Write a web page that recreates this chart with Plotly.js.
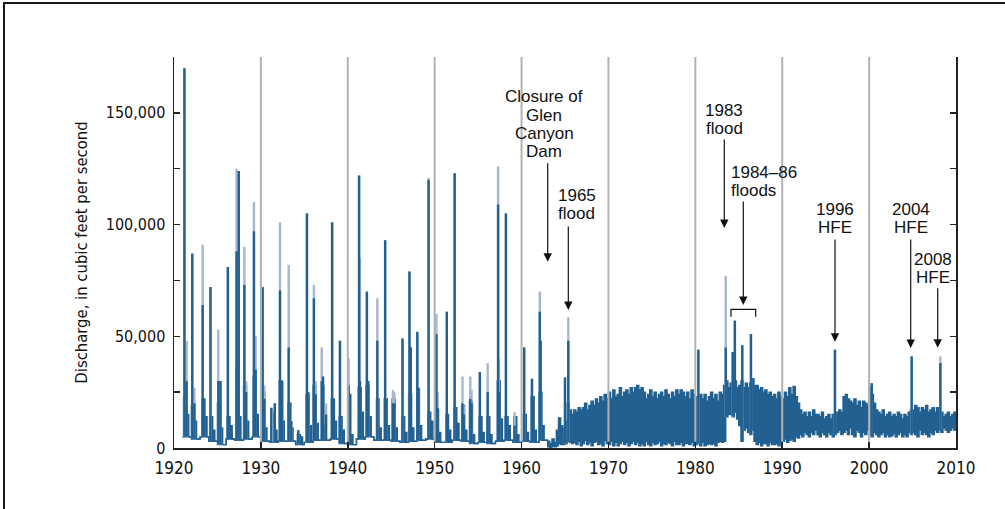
<!DOCTYPE html>
<html><head><meta charset="utf-8">
<script src="https://cdn.plot.ly/plotly-3.0.1.min.js"></script>
<style>
html,body{margin:0;padding:0;background:#fff;}
#wrap{position:relative;width:1005px;height:509px;overflow:hidden;}
#chart{position:absolute;left:0;top:0;width:1005px;height:509px;}
#frame{position:absolute;left:3px;top:2px;width:1100px;height:600px;border:2px solid #1a1a1a;box-sizing:border-box;pointer-events:none;}
</style></head><body>
<div id="wrap"><div id="chart"></div><div id="frame"></div></div>
<script>
// ---------- data ----------
const decades = [1920,1930,1940,1950,1960,1970,1980,1990,2000,2010];
const yTicks = [0,25000,50000,75000,100000,125000,150000,175000];
const yTickText = ['0','','50,000','','100,000','','150,000',''];

// pre-dam years: main annual spike (full / sustained part), spring bulk, summer-fall level, base flow
const preYears    = [1921,1922,1923,1924,1925,1926,1927,1928,1929,1930,1931,1932,1933,1934,1935,1936,1937,1938,1939,1940,1941,1942,1943,1944,1945,1946,1947,1948,1949,1950,1951,1952,1953,1954,1955,1956,1957,1958,1959,1960,1961,1962];
const prePeakAt   = [1921.20,1922.10,1923.30,1924.20,1925.10,1926.20,1927.20,1928.10,1929.20,1930.20,1931.60,1932.20,1933.20,1934.30,1935.30,1936.10,1937.00,1938.20,1939.10,1940.10,1941.30,1942.20,1943.40,1944.30,1945.20,1946.30,1947.10,1948.00,1949.30,1950.20,1951.40,1952.30,1953.20,1954.10,1955.20,1956.10,1957.30,1958.20,1959.20,1960.30,1961.20,1962.10];
const prePeak     = [170000,87000,91000,72000,53000,81000,125000,90000,110000,72000,20000,101000,82000,8000,105000,73000,45000,101000,48000,40000,122000,70000,67000,93000,26000,49000,79000,52000,121000,60000,61000,123000,32000,32000,34000,38000,126000,105000,16000,45000,31000,70000];
const prePeakDark = [170000,87000,64000,72000,30000,81000,88000,73000,97000,72000,20000,70500,45000,8000,105000,67000,30000,101000,48000,28000,122000,70000,48000,93000,20000,49000,79000,52000,120000,51000,61000,123000,20000,22000,34000,25000,109000,105000,10000,45000,31000,61000];
const preMass     = [23000,19000,22000,14000,20000,14000,36000,28000,32000,25000,16000,30000,20000,6000,24000,28000,28000,22000,14000,24000,27000,28000,22000,22000,22000,14000,24000,26000,16000,17000,15000,18000,19000,21000,14000,14000,30000,14000,14000,15000,23000,25000];
const preFall     = [15000,12000,14000,8000,9000,10000,14000,12000,15000,9000,8000,12000,9000,5000,10000,11000,10000,12000,8000,6000,16000,14000,9000,10000,9000,7000,9000,10000,12000,7000,8000,11000,8000,6000,7000,6000,13000,10000,6000,7000,8000,10000];
const preLow      = [5000,4000,5000,3000,1500,4000,3500,4000,5000,3000,2500,3000,3000,1500,2500,3500,3500,4000,2000,1500,4000,5000,3500,3500,3000,2500,3000,3500,4000,2500,2500,3500,3000,2000,2500,2000,3000,3500,2500,3000,2500,3500];

// secondary pre-dam spikes (full / sustained part)
const secAt   = [1921.45,1922.35,1923.45,1925.35,1927.45,1928.30,1929.40,1930.40,1931.20,1932.45,1933.50,1935.45,1936.30,1937.15,1937.50,1938.40,1941.40,1942.35,1944.45,1945.35,1947.25,1948.15,1950.35,1953.35,1954.25,1957.40,1961.30,1962.20];
const secVal  = [48000,27000,22000,30000,124000,30000,50000,28000,18000,30000,12000,25000,30000,32000,20000,22000,85000,30000,22000,25000,45000,27000,25000,19000,26000,40000,23000,48000];
const secDark = [30000,20000,22000,30000,124000,25000,35000,22000,18000,30000,12000,25000,24000,32000,15000,22000,30000,30000,22000,20000,45000,27000,18000,15000,20000,25000,23000,48000];

// post-dam quarterly envelope (1963.0 .. 2009.75): daily high / low
const postStart = 1963;
const postHigh = [
 3000,2000,4000,2500, 8000,13500,10000,9000, 12000,20000,17000,15000, 17000,16000,18000,17000,
 18000,20000,17000,19000, 21000,19000,22000,20000, 23000,21000,24000,22000, 25000,22000,26000,23000,
 24000,27000,23000,25000, 26000,24000,27000,25000, 27000,28000,26000,27000, 25000,22000,24000,26000,
 23000,25000,22000,24000, 25000,23000,26000,24000, 22000,25000,23000,26000, 24000,26000,25000,23000,
 25000,22000,26000,24000, 23000,21000,24000,22000, 24000,21000,23000,25000, 22000,24000,21000,25000,
 24000,28000,30000,27000, 29000,28000,30000,27000, 28000,30000,27000,29000, 27000,29000,31000,28000,
 28000,26000,27000,25000, 26000,24000,25000,23000, 24000,22000,25000,23000, 22000,25000,23000,27000,
 24000,27500,23000,20000, 17000,15000,16000,14000, 16000,14000,17000,15000, 15000,14000,16000,13000,
 14000,15000,13000,15000, 14000,16000,17000,16000, 23000,24000,22000,21000, 20000,22000,19000,21000,
 18000,21000,20000,19000, 27000,24000,20000,17000, 16000,15000,17000,14000, 15000,16000,14000,15000,
 14000,16000,15000,13000, 15000,14000,16000,17000, 17000,19000,18000,16000, 18000,17000,19000,16000,
 17000,18000,16000,18000, 15000,16000,14000,15000, 16000,14000,15000,16000];
const postLow = [
 500,300,800,500, 1000,2000,1500,1500, 2000,3000,2500,2000, 2500,1500,3000,1000,
 2000,3500,1500,2500, 1000,2500,3000,1500, 2000,1000,3500,2000, 1500,3000,1000,2500,
 1000,2000,3000,1500, 2500,1000,2000,3000, 1500,2500,1000,2000, 1000,3000,1500,1000,
 2500,1500,2000,3000, 1000,2000,1500,2500, 2000,1000,3000,1500, 1500,2500,1000,2000,
 2000,1500,2500,1000, 1500,2000,1000,2500, 1000,1500,2000,1500, 2000,1000,2500,3000,
 2500,3000,14000,15000, 15000,14000,16000,13000, 10000,3000,8000,9000, 7000,6000,8000,3000,
 1500,2500,1000,2000, 2000,1000,2500,1500, 1500,2000,1000,2500, 3000,4000,2500,3500,
 4000,3000,5000,4500, 6000,5000,7000,6000, 5000,7000,6000,8000, 6000,5000,7000,6000,
 5000,7000,6000,5000, 6000,7000,8000,6000, 7000,8000,6000,9000, 6000,5000,8000,7000,
 5000,7000,6000,8000, 6000,5000,7000,6000, 5000,6000,7000,5000, 6000,5000,5500,6500,
 5000,6000,7000,5000, 6000,5000,7000,6000, 7000,6000,5000,8000, 6000,7000,6000,5000,
 7000,6000,8000,7000, 8000,7000,9000,8000, 7000,8000,9000,8000];

// post-dam flood / HFE spikes (full / sustained part)
const postSpikeAt   = [1965.00,1965.38,1980.35,1983.50,1984.30,1984.55,1985.40,1986.40,1996.07,2000.30,2004.90,2008.20];
const postSpikeVal  = [31600,58500,44000,77000,43000,57000,46000,51000,44000,29000,41000,41000];
const postSpikeDark = [31600,48000,44000,45000,43000,57000,46000,51000,44000,29000,41000,38000];

// ---------- build traces ----------
const BLUE = '#216090', LIGHT = '#a7b6cf';
const ex = [], elo = [], ehi = [];
preYears.forEach((yr, i) => {
  const t = prePeakAt[i];
  const m0 = Math.max(yr, t - 0.1), m1 = Math.min(yr + 0.6, t + 0.25), f1 = Math.min(yr + 0.9, m1 + 0.25);
  if (m0 > yr) { ex.push(yr); elo.push(preLow[i]); ehi.push(preLow[i]); }
  ex.push(m0); elo.push(preLow[i]); ehi.push(preMass[i]);
  ex.push(m1); elo.push(preLow[i]); ehi.push(preFall[i]);
  ex.push(f1); elo.push(preLow[i]); ehi.push(preLow[i]);
});
postHigh.forEach((v, q) => { ex.push(postStart + q * 0.25); elo.push(postLow[q]); ehi.push(v); });
ex.push(2010); elo.push(postLow[postLow.length-1]); ehi.push(postHigh[postHigh.length-1]);

function baseAt(t) {
  if (t < postStart) { const i = preYears.indexOf(Math.floor(t)); return i >= 0 ? preLow[i] : 3000; }
  const q = Math.min(postLow.length - 1, Math.floor((t - postStart) * 4));
  return postLow[q];
}
const lx = [], ly = [], dx = [], dy = [];
function addSpike(t, full, dark) {
  lx.push(t, t, null); ly.push(baseAt(t), full, null);
  dx.push(t, t, null); dy.push(baseAt(t), dark, null);
}
prePeakAt.forEach((t, i) => addSpike(t, prePeak[i], prePeakDark[i]));
secAt.forEach((t, i) => addSpike(t, secVal[i], secDark[i]));
postSpikeAt.forEach((t, i) => addSpike(t, postSpikeVal[i], postSpikeDark[i]));

const traces = [
  {x: ex, y: elo, mode: 'lines', line: {shape: 'hv', width: 1.4, color: BLUE}, hoverinfo: 'skip'},
  {x: ex, y: ehi, mode: 'lines', fill: 'tonexty', fillcolor: BLUE, line: {shape: 'hv', width: 1.4, color: BLUE}, hoverinfo: 'skip'},
  {x: lx, y: ly, mode: 'lines', line: {width: 2.4, color: LIGHT}, hoverinfo: 'skip'},
  {x: dx, y: dy, mode: 'lines', line: {width: 2.4, color: BLUE}, hoverinfo: 'skip'}
];

// ---------- annotation geometry helpers (pixel -> axis units) ----------
const PL = 174, PR = 956, PT = 57, PB = 448;
const X = px => 1920 + (px - PL) * 90 / (PR - PL);
const Y = py => (PB - py) * 175000 / (PB - PT);

const TXT = {family: 'Liberation Sans, Arial, sans-serif', size: 17, color: '#111'};
const COND = 'Liberation Sans Narrow, DejaVu Sans Condensed, Arial Narrow, sans-serif';
function label(text, px, py, anchor) {
  return {x: X(px), y: Y(py), xref: 'x', yref: 'y', text: text, showarrow: false,
          xanchor: anchor || 'center', yanchor: 'middle', font: TXT, borderpad: 0};
}
function arrow(px, tipY, tailY) {
  return {x: X(px), y: Y(tipY), xref: 'x', yref: 'y', text: '', showarrow: true,
          ax: 0, ay: tailY - tipY, axref: 'pixel', ayref: 'pixel',
          arrowhead: 2, arrowsize: 1.4, arrowwidth: 1.2, arrowcolor: '#111', standoff: 0, startstandoff: 0};
}
const annotations = [
  label('Closure of', 544, 96.7), label('Glen', 544, 115), label('Canyon', 544, 133.3), label('Dam', 544, 151.7),
  arrow(547.7, 261.7, 161.7),
  label('1965', 576.7, 195), label('flood', 576.7, 213.3),
  arrow(568.3, 310, 225),
  label('1983', 724, 110), label('flood', 724, 128.3),
  arrow(724.3, 228, 138),
  label('1984\u201386', 730, 172.7, 'left'), label('floods', 730, 190, 'left'),
  arrow(743.3, 305, 200),
  label('1996', 835, 209), label('HFE', 835, 227.3),
  arrow(835, 341.7, 238),
  label('2004', 910.7, 209), label('HFE', 910.7, 227.3),
  arrow(910.7, 348, 238),
  label('2008', 932.5, 259.5), label('HFE', 932.5, 277.8),
  arrow(937.7, 347.7, 286.7)
];

const shapes = decades.slice(1, -1).map(d => ({
  type: 'line', xref: 'x', yref: 'paper', x0: d, x1: d, y0: 0.016, y1: 1,
  line: {color: '#b2b2b2', width: 2}, layer: 'above'
}));
shapes.push({type: 'path', xref: 'x', yref: 'y', layer: 'above',
  path: `M ${X(731)},${Y(316.7)} L ${X(731)},${Y(309.3)} L ${X(755.7)},${Y(309.3)} L ${X(755.7)},${Y(316.7)}`,
  line: {color: '#111', width: 1.2}});

const layout = {
  width: 1005, height: 509,
  margin: {l: PL, r: 1005 - PR, t: PT, b: 509 - PB, pad: 0},
  paper_bgcolor: '#fff', plot_bgcolor: '#fff', showlegend: false,
  xaxis: {range: [1920, 2010], tickvals: decades, ticktext: decades.map(String),
          ticks: 'inside', ticklen: 6, tickwidth: 1.5, tickcolor: '#222',
          showline: true, linecolor: '#222', linewidth: 1.5, showgrid: false, zeroline: false,
          ticklabelstandoff: 4, tickfont: {family: COND, size: 17, color: '#111'}, layer: 'above traces'},
  yaxis: {range: [0, 175000], tickvals: yTicks, ticktext: yTickText,
          ticks: 'inside', ticklen: 6, tickwidth: 1.5, tickcolor: '#222', mirror: 'ticks',
          showline: true, linecolor: '#222', linewidth: 1.5, showgrid: false, zeroline: false,
          ticklabelstandoff: 4, tickfont: {family: COND, size: 16, color: '#111'}, layer: 'above traces',
          title: {text: 'Discharge, in cubic feet per second', font: {family: COND, size: 16.5, color: '#111'}, standoff: 14}},
  annotations: annotations, shapes: shapes
};
Plotly.newPlot('chart', traces, layout, {staticPlot: true, displayModeBar: false});
</script></body></html>
